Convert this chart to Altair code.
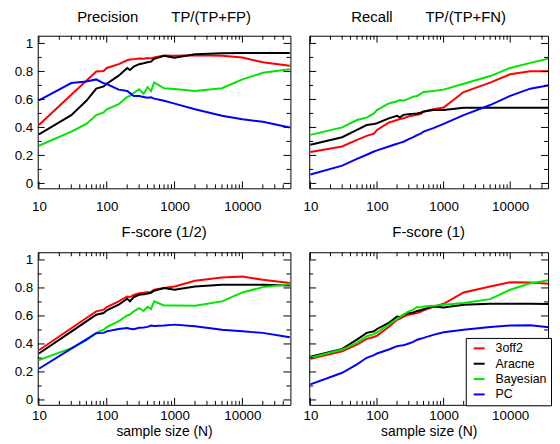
import altair as alt
import pandas as pd

# ---------------- data ----------------
N = [10, 30, 50, 70, 90, 100, 150, 200, 220, 250, 300, 350, 400, 450, 500,
     700, 1000, 2000, 5000, 10000, 20000, 50000]
methods = ["3off2", "Aracne", "Bayesian", "PC"]
colors = ["#ff0000", "#000000", "#00e600", "#0000ff"]

prec_3off2 = [0.417, 0.633, 0.734, 0.800, 0.803, 0.825, 0.852, 0.880, 0.885, 0.888, 0.893, 0.890, 0.896, 0.893, 0.900,
              0.913, 0.912, 0.915, 0.912, 0.900, 0.865, 0.840]
prec_aracne = [0.351, 0.488, 0.590, 0.677, 0.693, 0.712, 0.770, 0.825, 0.810, 0.835, 0.852, 0.858, 0.865, 0.870, 0.890,
               0.912, 0.898, 0.922, 0.930, 0.932, 0.932, 0.932]
prec_bayes = [0.269, 0.370, 0.425, 0.488, 0.507, 0.530, 0.566, 0.618, 0.625, 0.648, 0.672, 0.640, 0.688, 0.660, 0.722,
              0.680, 0.675, 0.660, 0.680, 0.743, 0.790, 0.816]
prec_pc = [0.594, 0.717, 0.728, 0.743, 0.715, 0.710, 0.670, 0.660, 0.645, 0.625, 0.625, 0.618, 0.612, 0.615, 0.606,
           0.590, 0.570, 0.530, 0.484, 0.458, 0.440, 0.400]

rec_3off2 = [0.224, 0.264, 0.311, 0.340, 0.355, 0.382, 0.434, 0.453, 0.460, 0.465, 0.480, 0.485, 0.490, 0.495, 0.512,
             0.530, 0.542, 0.653, 0.720, 0.780, 0.802, 0.802]
rec_aracne = [0.276, 0.330, 0.382, 0.417, 0.425, 0.430, 0.465, 0.483, 0.472, 0.490, 0.495, 0.497, 0.500, 0.505, 0.514,
              0.525, 0.524, 0.540, 0.540, 0.540, 0.540, 0.540]
rec_bayes = [0.347, 0.400, 0.453, 0.470, 0.500, 0.524, 0.571, 0.587, 0.595, 0.590, 0.606, 0.620, 0.625, 0.640, 0.653,
             0.660, 0.670, 0.712, 0.767, 0.825, 0.861, 0.906]
rec_pc = [0.064, 0.127, 0.175, 0.205, 0.228, 0.236, 0.264, 0.283, 0.290, 0.298, 0.316, 0.330, 0.345, 0.355, 0.370,
          0.395, 0.425, 0.488, 0.560, 0.625, 0.677, 0.712]

fh_3off2 = [0.355, 0.512, 0.585, 0.633, 0.645, 0.664, 0.704, 0.739, 0.735, 0.750, 0.763, 0.765, 0.770, 0.772, 0.787,
            0.800, 0.810, 0.851, 0.874, 0.882, 0.858, 0.835]
fh_aracne = [0.332, 0.488, 0.561, 0.609, 0.621, 0.640, 0.680, 0.723, 0.705, 0.735, 0.751, 0.755, 0.760, 0.765, 0.780,
             0.800, 0.787, 0.810, 0.822, 0.822, 0.822, 0.817]
fh_bayes = [0.284, 0.370, 0.425, 0.479, 0.502, 0.520, 0.562, 0.604, 0.610, 0.633, 0.655, 0.635, 0.665, 0.650, 0.704,
            0.675, 0.675, 0.673, 0.704, 0.768, 0.806, 0.827]
fh_pc = [0.223, 0.367, 0.433, 0.477, 0.479, 0.490, 0.507, 0.514, 0.508, 0.505, 0.515, 0.518, 0.522, 0.532, 0.528,
         0.532, 0.538, 0.526, 0.502, 0.490, 0.479, 0.448]

f1_3off2 = [0.294, 0.348, 0.396, 0.436, 0.450, 0.460, 0.521, 0.573, 0.580, 0.595, 0.609, 0.615, 0.620, 0.630, 0.640,
            0.665, 0.687, 0.768, 0.810, 0.841, 0.839, 0.827]
f1_aracne = [0.308, 0.365, 0.431, 0.479, 0.490, 0.507, 0.550, 0.597, 0.590, 0.610, 0.620, 0.625, 0.635, 0.640, 0.649,
             0.668, 0.661, 0.680, 0.687, 0.687, 0.687, 0.685]
f1_bayes = [0.301, 0.360, 0.408, 0.455, 0.470, 0.483, 0.538, 0.580, 0.590, 0.610, 0.633, 0.645, 0.664, 0.660, 0.668,
            0.672, 0.680, 0.692, 0.720, 0.787, 0.834, 0.863]
f1_pc = [0.111, 0.194, 0.254, 0.301, 0.320, 0.332, 0.360, 0.384, 0.388, 0.390, 0.403, 0.415, 0.430, 0.437, 0.443,
         0.465, 0.483, 0.502, 0.521, 0.531, 0.533, 0.514]

x_major = [10, 100, 1000, 10000]
x_minor = [20, 30, 40, 50, 60, 70, 80, 90, 200, 300, 400, 500, 600, 700, 800, 900,
           2000, 3000, 4000, 5000, 6000, 7000, 8000, 9000, 20000, 30000, 40000]
y_major = [0, 0.2, 0.4, 0.6, 0.8, 1.0]
y_minor = [0.1, 0.3, 0.5, 0.7, 0.9]

FONT = "Liberation Sans"
H = 154
Y_DOM = [-0.035, 1.055]


def long_df(series):
    rows = []
    for m, vals in zip(methods, series):
        for n, v in zip(N, vals):
            rows.append({"N": n, "value": v, "method": m})
    return pd.DataFrame(rows)


def panel(title, series, left, bottom, width, xmax, legend, title_offset, label_pad):
    xs = alt.Scale(type="log", domain=[9.6, xmax], nice=False)
    ys = alt.Scale(domain=Y_DOM, nice=False, zero=False)
    df = long_df(series)
    x_axis = alt.Axis(values=x_major, format="d", ticks=False, domain=False, grid=False,
                      labelPadding=label_pad, labelFlush=False, labelFontSize=13.5,
                      title="sample size (N)" if bottom else None,
                      titleFontSize=14, titleFontWeight="normal", titlePadding=2)
    y_axis = alt.Axis(values=y_major, format="~g", ticks=False, domain=False, grid=False,
                      labels=left, labelPadding=5, labelFontSize=13.5, title=None)
    color = alt.Color("method:N", scale=alt.Scale(domain=methods, range=colors),
                      legend=legend)
    lines = alt.Chart(df).mark_line(strokeWidth=2, clip=True).encode(
        x=alt.X("N:Q", scale=xs, axis=x_axis),
        y=alt.Y("value:Q", scale=ys, axis=y_axis),
        color=color,
    )
    layers = []
    xmaj = pd.DataFrame({"t": x_major})
    xmin = pd.DataFrame({"t": [t for t in x_minor if t < xmax]})
    ymaj = pd.DataFrame({"t": y_major})
    ymin = pd.DataFrame({"t": y_minor})
    for d, ln in ((xmaj, 7), (xmin, 4)):
        base = alt.Chart(d).mark_rule(color="black", strokeWidth=1)
        layers.append(base.encode(x=alt.X("t:Q", scale=xs, axis=x_axis),
                                  y=alt.value(H), y2=alt.value(H - ln)))
        layers.append(base.encode(x=alt.X("t:Q", scale=xs, axis=x_axis),
                                  y=alt.value(0), y2=alt.value(ln)))
    for d, ln in ((ymaj, 7), (ymin, 4)):
        base = alt.Chart(d).mark_rule(color="black", strokeWidth=1)
        layers.append(base.encode(y=alt.Y("t:Q", scale=ys, axis=y_axis),
                                  x=alt.value(0), x2=alt.value(ln)))
        layers.append(base.encode(y=alt.Y("t:Q", scale=ys, axis=y_axis),
                                  x=alt.value(width), x2=alt.value(width - ln)))
    return alt.layer(lines, *layers).properties(
        width=width, height=H,
        title=alt.TitleParams(title, fontSize=15, font=FONT, fontWeight="normal",
                              baseline="alphabetic", offset=title_offset, color="black",
                              frame="group"),
    )


NB = "\u00a0" * 8
legend4 = alt.Legend(orient="none", legendX=158, legendY=86.5, title=None,
                     strokeColor="black", fillColor="white", padding=4,
                     symbolType="stroke", symbolStrokeWidth=2, symbolSize=121,
                     symbolOffset=3, labelOffset=10, labelFontSize=12.5, labelFont=FONT,
                     labelColor="black", rowPadding=2.5, cornerRadius=0)

W_L, W_R = 255, 241
XMAX_L, XMAX_R = 51000, 37000

p1 = panel("Precision" + NB + "TP/(TP+FP)", [prec_3off2, prec_aracne, prec_bayes, prec_pc],
           True, False, W_L, XMAX_L, None, -2, 11)
p2 = panel("Recall" + NB + "TP/(TP+FN)", [rec_3off2, rec_aracne, rec_bayes, rec_pc],
           False, False, W_R, XMAX_R, None, -2, 11)
p3 = panel("F-score (1/2)", [fh_3off2, fh_aracne, fh_bayes, fh_pc],
           True, True, W_L, XMAX_L, None, -0.5, 4)
p4 = panel("F-score (1)", [f1_3off2, f1_aracne, f1_bayes, f1_pc],
           False, True, W_R, XMAX_R, legend4, -0.5, 4)

chart = alt.concat(p1, p2, p3, p4, columns=2, spacing={"row": 64.5, "column": 19},
                   bounds="flush").resolve_scale(color="independent").resolve_legend(
    color="independent").properties(
    padding={"left": 5, "top": 0, "right": 0, "bottom": 0}
).configure(font=FONT).configure_view(stroke="black", strokeWidth=1).configure_axis(
    labelColor="black", titleColor="black", labelFont=FONT, titleFont=FONT)

chart.save("out.html", embed_options={"renderer": "svg", "actions": False})
